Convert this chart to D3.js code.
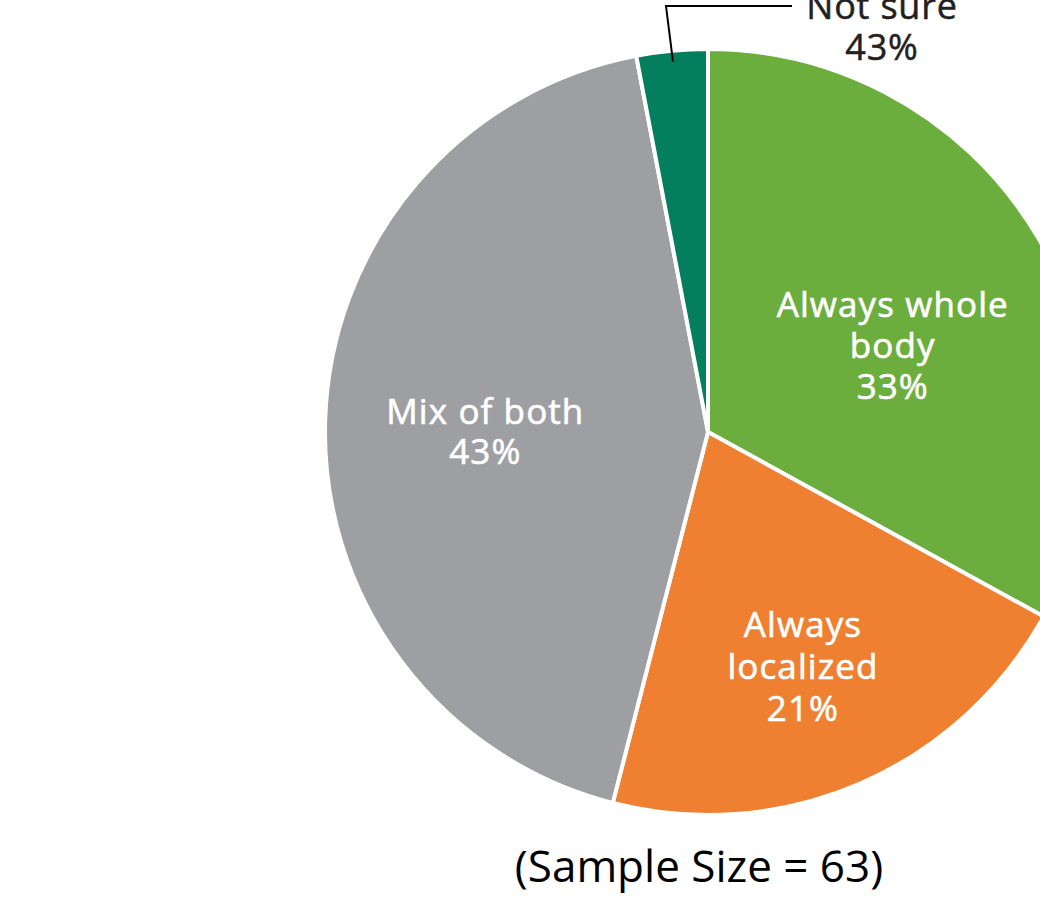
<!DOCTYPE html>
<html>
<head>
<meta charset="utf-8">
<script src="https://cdn.jsdelivr.net/npm/d3@7"></script>
<style>
  html, body { margin: 0; padding: 0; background: #fff; }
  svg { display: block; }
  text { font-family: "Open Sans", "Noto Sans", sans-serif; }
</style>
</head>
<body>
<svg id="chart" width="1040" height="921"></svg>
<script>
// ---- data ----
const categories = ["Always whole body", "Always localized", "Mix of both", "Not sure"];
const values = [33, 21, 43, 3];
const labelLines = [["Always whole", "body", "33%"], ["Always", "localized", "21%"], ["Mix of both", "43%"], ["Not sure", "43%"]];
const colors = ["#6cae3e", "#ef7f31", "#9e9fa2", "#037f5e"];
const footnote = "(Sample Size = 63)";

// ---- layout ----
const W = 1040, H = 921;
const cx = 708, cy = 432, R = 383;
const svg = d3.select("#chart");
const g = svg.append("g").attr("transform", `translate(${cx},${cy})`);

const pie = d3.pie().sort(null).value(d => d);
const arcs = pie(values);
const arc = d3.arc().innerRadius(0).outerRadius(R);

g.selectAll("path.slice")
  .data(arcs)
  .join("path")
  .attr("class", "slice")
  .attr("d", arc)
  .attr("fill", (d, i) => colors[i])
  .attr("stroke", "#fff")
  .attr("stroke-width", 4)
  .attr("stroke-linejoin", "miter");

// inside labels: polar position (degrees clockwise from top, radius) of label anchor
const inside = [
  { i: 0, ang: 68.2, r: 199, lh: 41 },
  { i: 1, ang: 159.0, r: 265, lh: 42 },
  { i: 2, ang: 266.8, r: 223, lh: 40 }
];
inside.forEach(p => {
  const a = p.ang * Math.PI / 180;
  const x = Math.sin(a) * p.r, y = -Math.cos(a) * p.r;
  const lines = labelLines[p.i];
  const n = lines.length;
  const t = g.append("text")
    .attr("text-anchor", "middle")
    .attr("fill", "#fff")
    .attr("stroke", "#fff")
    .attr("stroke-width", 0.6)
    .attr("letter-spacing", 1.1)
    .attr("font-size", 35);
  lines.forEach((ln, k) => {
    t.append("tspan")
      .attr("x", x)
      .attr("y", y + (k - (n - 1) / 2) * p.lh)
      .text(ln);
  });
});

// outside label for the small slice with leader line
const s = arcs[3];
const mid = (s.startAngle + s.endAngle) / 2;
const p0 = [Math.sin(mid) * (R - 11), -Math.cos(mid) * (R - 11)];
const elbow = [666 - cx, 6 - cy];
const end = [792 - cx, 6 - cy];
g.append("path")
  .attr("d", d3.line()([p0, elbow, end]))
  .attr("fill", "none")
  .attr("stroke", "#000")
  .attr("stroke-width", 2);
const ot = g.append("text")
  .attr("text-anchor", "middle")
  .attr("fill", "#231f20")
  .attr("stroke", "#231f20")
  .attr("stroke-width", 0.5)
  .attr("letter-spacing", 0.8)
  .attr("font-size", 36);
labelLines[3].forEach((ln, k) => {
  ot.append("tspan").attr("x", 882 - cx).attr("y", 19 - cy + k * 41).text(ln);
});

svg.append("text")
  .attr("x", 699)
  .attr("y", 882)
  .attr("text-anchor", "middle")
  .attr("fill", "#000")
  .attr("font-size", 44)
  .text(footnote);
</script>
</body>
</html>
